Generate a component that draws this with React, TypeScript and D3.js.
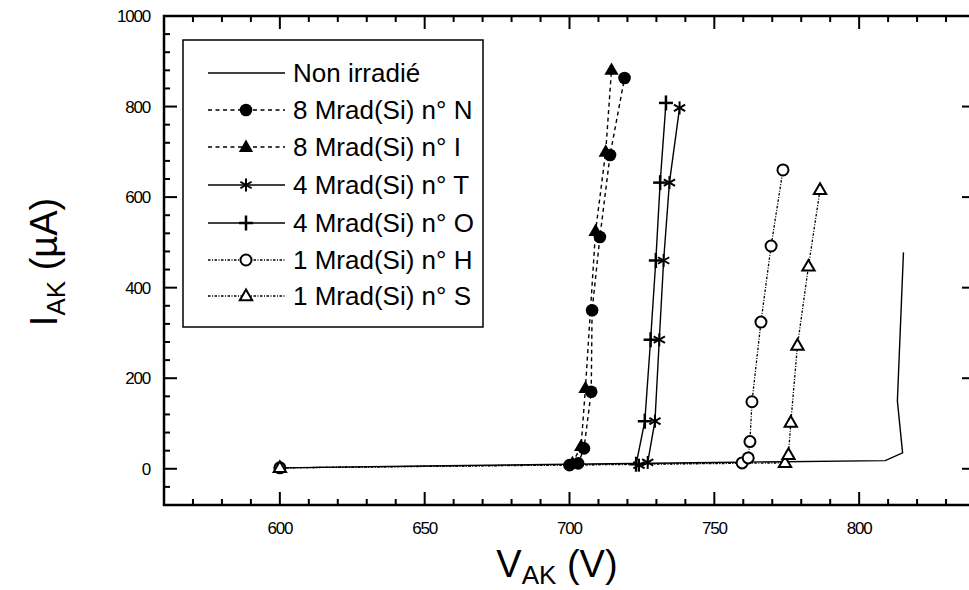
import React from "react";
import * as d3 from "d3";

// ---------- data ----------
const nonIrrV = [600, 650, 700, 750, 809, 815, 813.2, 815.3];
const nonIrrI = [2, 6, 10, 14, 18, 35, 150, 478];

const m8N_V = [700, 703, 705, 707.5, 707.8, 710.5, 714, 719];
const m8N_I = [8, 12, 45, 170, 350, 512, 693, 863];

const m8I_V = [701, 704, 705.5, 709, 712.5, 714.5];
const m8I_I = [12, 50, 178, 525, 700, 881];

const m4T_V = [724, 727, 729.5, 731, 732.5, 734.5, 738];
const m4T_I = [8, 14, 105, 285, 460, 632, 797];

const m4O_V = [723, 726, 728, 729.8, 731.3, 733.3];
const m4O_I = [10, 105, 285, 460, 632, 808];

const m1H_V = [600, 759.6, 761.7, 762.3, 763.0, 766.1, 769.6, 773.7];
const m1H_I = [2, 13, 24, 60, 148, 324, 492, 660];

const m1S_V = [600, 774.4, 775.6, 776.4, 778.7, 782.5, 786.5];
const m1S_I = [2, 13, 31, 102, 272, 447, 616];

const legendLabels = [
  "Non irradié",
  "8 Mrad(Si) n° N",
  "8 Mrad(Si) n° I",
  "4 Mrad(Si) n° T",
  "4 Mrad(Si) n° O",
  "1 Mrad(Si) n° H",
  "1 Mrad(Si) n° S",
];

const xTickLabels = [600, 650, 700, 750, 800];
const yTickLabels = [0, 200, 400, 600, 800, 1000];

// ---------- layout ----------
const W = 969;
const H = 590;
const FONT = "'Liberation Sans', Arial, Helvetica, sans-serif";

const x = d3.scaleLinear().domain([560, 840]).range([164, 975]);
const y = d3.scaleLinear().domain([-80, 1000]).range([505, 16]);

type MarkerKind = "none" | "fcircle" | "ftri" | "star" | "plus" | "ocircle" | "otri";

function Marker({ kind, cx, cy }: { kind: MarkerKind; cx: number; cy: number }) {
  switch (kind) {
    case "fcircle":
      return <circle cx={cx} cy={cy} r={6.3} fill="#000" />;
    case "ftri": {
      const s = 7.5;
      return (
        <path
          d={`M${cx},${cy - s} L${cx + s * 0.95},${cy + s * 0.65} L${cx - s * 0.95},${cy + s * 0.65} Z`}
          fill="#000"
        />
      );
    }
    case "otri": {
      const s = 6.5;
      return (
        <path
          d={`M${cx},${cy - s} L${cx + s * 0.95},${cy + s * 0.65} L${cx - s * 0.95},${cy + s * 0.65} Z`}
          fill="#fff"
          stroke="#000"
          strokeWidth={2}
          strokeLinejoin="miter"
        />
      );
    }
    case "ocircle":
      return <circle cx={cx} cy={cy} r={5.5} fill="#fff" stroke="#000" strokeWidth={2} />;
    case "plus":
      return (
        <g stroke="#000" strokeWidth={2.5}>
          <line x1={cx - 7} y1={cy} x2={cx + 7} y2={cy} />
          <line x1={cx} y1={cy - 7.5} x2={cx} y2={cy + 7.5} />
        </g>
      );
    case "star": {
      const r = 6.5;
      const arms = [90, 30, -30].map((a) => (a * Math.PI) / 180);
      return (
        <g stroke="#000" strokeWidth={2}>
          {arms.map((a, i) => (
            <line
              key={i}
              x1={cx - r * Math.cos(a)}
              y1={cy - r * Math.sin(a)}
              x2={cx + r * Math.cos(a)}
              y2={cy + r * Math.sin(a)}
            />
          ))}
        </g>
      );
    }
    default:
      return null;
  }
}

interface Series {
  label: string;
  V: number[];
  I: number[];
  marker: MarkerKind;
  dash: string;
  width: number;
}

const series: Series[] = [
  { label: legendLabels[0], V: nonIrrV, I: nonIrrI, marker: "none", dash: "none", width: 1.4 },
  { label: legendLabels[1], V: m8N_V, I: m8N_I, marker: "fcircle", dash: "4,3.5", width: 1.4 },
  { label: legendLabels[2], V: m8I_V, I: m8I_I, marker: "ftri", dash: "4,3.5", width: 1.4 },
  { label: legendLabels[3], V: m4T_V, I: m4T_I, marker: "star", dash: "none", width: 1.4 },
  { label: legendLabels[4], V: m4O_V, I: m4O_I, marker: "plus", dash: "none", width: 1.4 },
  { label: legendLabels[5], V: m1H_V, I: m1H_I, marker: "ocircle", dash: "2.5,1.5,1,1.5", width: 1.3 },
  { label: legendLabels[6], V: m1S_V, I: m1S_I, marker: "otri", dash: "2.5,1.5,1,1.5", width: 1.3 },
];

const lineGen = d3
  .line<[number, number]>()
  .x((d) => x(d[0]))
  .y((d) => y(d[1]));

export default function App() {
  const [x0, x1] = x.range();
  const [yb, yt] = y.range();
  const xMinor = d3.range(560, 841, 10);
  const yMinor = d3.range(-80, 1001, 40);

  const legendX = 183;
  const legendY = 40;
  const legendW = 300;
  const legendH = 287;
  const rowsY = [73, 110, 147, 185, 223, 260, 296];

  return (
    <svg
      width={W}
      height={H}
      style={{ position: "absolute", left: 0, top: 0, background: "#fff" }}
      fontFamily={FONT}
    >
      <rect x={0} y={0} width={W} height={H} fill="#fff" />

      {/* data lines */}
      {series.map((s, i) => (
        <path
          key={"l" + i}
          d={lineGen(s.V.map((v, k) => [v, s.I[k]] as [number, number])) || ""}
          fill="none"
          stroke="#000"
          strokeWidth={s.width}
          strokeDasharray={s.dash === "none" ? undefined : s.dash}
        />
      ))}
      {/* markers */}
      {series.map((s, i) =>
        s.V.map((v, k) => <Marker key={`m${i}-${k}`} kind={s.marker} cx={x(v)} cy={y(s.I[k])} />)
      )}

      {/* frame */}
      <rect x={x0} y={yt} width={x1 - x0} height={yb - yt} fill="none" stroke="#000" strokeWidth={2.5} />

      {/* x ticks */}
      {xMinor.map((v) => {
        const major = v % 50 === 0;
        const len = major ? 13 : 6;
        return (
          <g key={"xt" + v} stroke="#000" strokeWidth={2}>
            <line x1={x(v)} x2={x(v)} y1={yb} y2={yb - len} />
            <line x1={x(v)} x2={x(v)} y1={yt} y2={yt + len} />
          </g>
        );
      })}
      {/* y ticks */}
      {yMinor.map((v) => {
        const major = v % 200 === 0;
        const len = major ? 13 : 6;
        return (
          <g key={"yt" + v} stroke="#000" strokeWidth={2}>
            <line x1={x0} x2={x0 + len} y1={y(v)} y2={y(v)} />
            <line x1={x1} x2={x1 - len} y1={y(v)} y2={y(v)} />
          </g>
        );
      })}

      {/* tick labels */}
      {xTickLabels.map((v) => (
        <text
          key={"xl" + v}
          x={x(v)}
          y={534}
          textAnchor="middle"
          fontSize={17}
          letterSpacing={-1.2}
          fill="#000"
        >
          {v}
        </text>
      ))}
      {yTickLabels.map((v) => (
        <text
          key={"yl" + v}
          x={150}
          y={y(v)}
          dy="0.35em"
          textAnchor="end"
          fontSize={17}
          letterSpacing={-1.2}
          fill="#000"
        >
          {v}
        </text>
      ))}

      {/* axis titles */}
      <text x={557} y={577} textAnchor="middle" fontSize={38} fill="#000">
        V<tspan fontSize={26} dy={7}>AK</tspan>
        <tspan dy={-7}> (V)</tspan>
      </text>
      <text
        transform={`translate(57,262) rotate(-90)`}
        textAnchor="middle"
        fontSize={38}
        fill="#000"
      >
        I<tspan fontSize={26} dy={8}>AK</tspan>
        <tspan dy={-8}> (µA)</tspan>
      </text>

      {/* legend */}
      <rect x={legendX} y={legendY} width={legendW} height={legendH} fill="#fff" stroke="#000" strokeWidth={1.5} />
      {series.map((s, i) => (
        <g key={"lg" + i}>
          <line
            x1={208}
            x2={285}
            y1={rowsY[i]}
            y2={rowsY[i]}
            stroke="#000"
            strokeWidth={s.width}
            strokeDasharray={s.dash === "none" ? undefined : s.dash}
          />
          <Marker kind={s.marker} cx={246} cy={rowsY[i]} />
          <text x={293} y={rowsY[i]} dy="0.36em" fontSize={26} fill="#000">
            {s.label}
          </text>
        </g>
      ))}
    </svg>
  );
}
